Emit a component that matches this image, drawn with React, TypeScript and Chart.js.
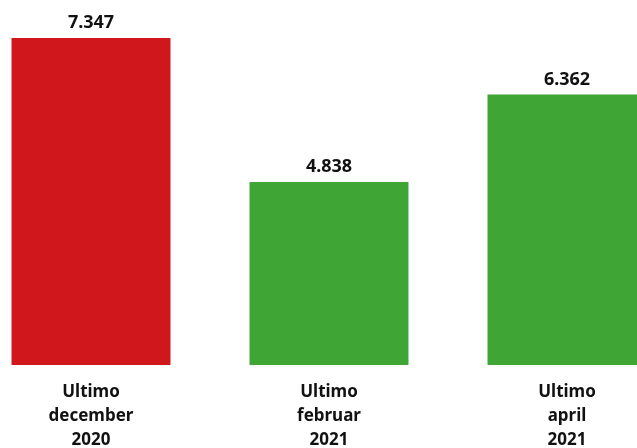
import React, { useEffect, useRef } from "react";
import { Chart, registerables } from "chart.js";

Chart.register(...registerables);

const categories: string[][] = [
  ["Ultimo", "december", "2020"],
  ["Ultimo", "februar", "2021"],
  ["Ultimo", "april", "2021"],
];
const values: number[] = [7.347, 4.838, 6.362];
const valueLabels: string[] = ["7.347", "4.838", "6.362"];
const barColors: string[] = ["#D0181C", "#3FA535", "#3FA535"];

const FONT = "'Noto Sans', 'DejaVu Sans', sans-serif";

const valueLabelPlugin = {
  id: "valueLabels",
  afterDatasetsDraw(chart: any) {
    const { ctx } = chart;
    const meta = chart.getDatasetMeta(0);
    ctx.save();
    ctx.font = `bold 18px ${FONT}`;
    ctx.fillStyle = "#111111";
    ctx.textAlign = "center";
    ctx.textBaseline = "alphabetic";
    meta.data.forEach((bar: any, i: number) => {
      ctx.fillText(valueLabels[i], bar.x, bar.y - 10);
    });
    ctx.restore();
  },
};

export default function App() {
  const ref = useRef<HTMLCanvasElement | null>(null);
  useEffect(() => {
    if (!ref.current) return;
    const chart = new Chart(ref.current, {
      type: "bar",
      data: {
        labels: categories,
        datasets: [
          {
            data: values,
            backgroundColor: barColors,
            borderWidth: 0,
            categoryPercentage: 1,
            barPercentage: 0.668,
          },
        ],
      },
      options: {
        responsive: false,
        animation: false,
        layout: { padding: 0 },
        plugins: {
          legend: { display: false },
          tooltip: { enabled: false },
          title: { display: false },
        },
        scales: {
          x: {
            grid: { display: false, drawTicks: false },
            border: { display: false },
            ticks: {
              padding: 15,
              color: "#111111",
              font: { family: FONT, size: 17, weight: "bold", lineHeight: "24px" },
              maxRotation: 0,
              autoSkip: false,
            },
          },
          y: {
            display: false,
            min: 1.65,
            max: 8.01,
          },
        },
      },
      plugins: [valueLabelPlugin],
    });
    return () => chart.destroy();
  }, []);
  return (
    <div
      style={{
        position: "fixed",
        left: 0,
        top: 0,
        width: 637,
        height: 448,
        overflow: "hidden",
        background: "#ffffff",
      }}
    >
      <canvas
        ref={ref}
        width={714}
        height={467}
        style={{ position: "absolute", left: -28, top: 0, width: 714, height: 467 }}
      />
    </div>
  );
}
